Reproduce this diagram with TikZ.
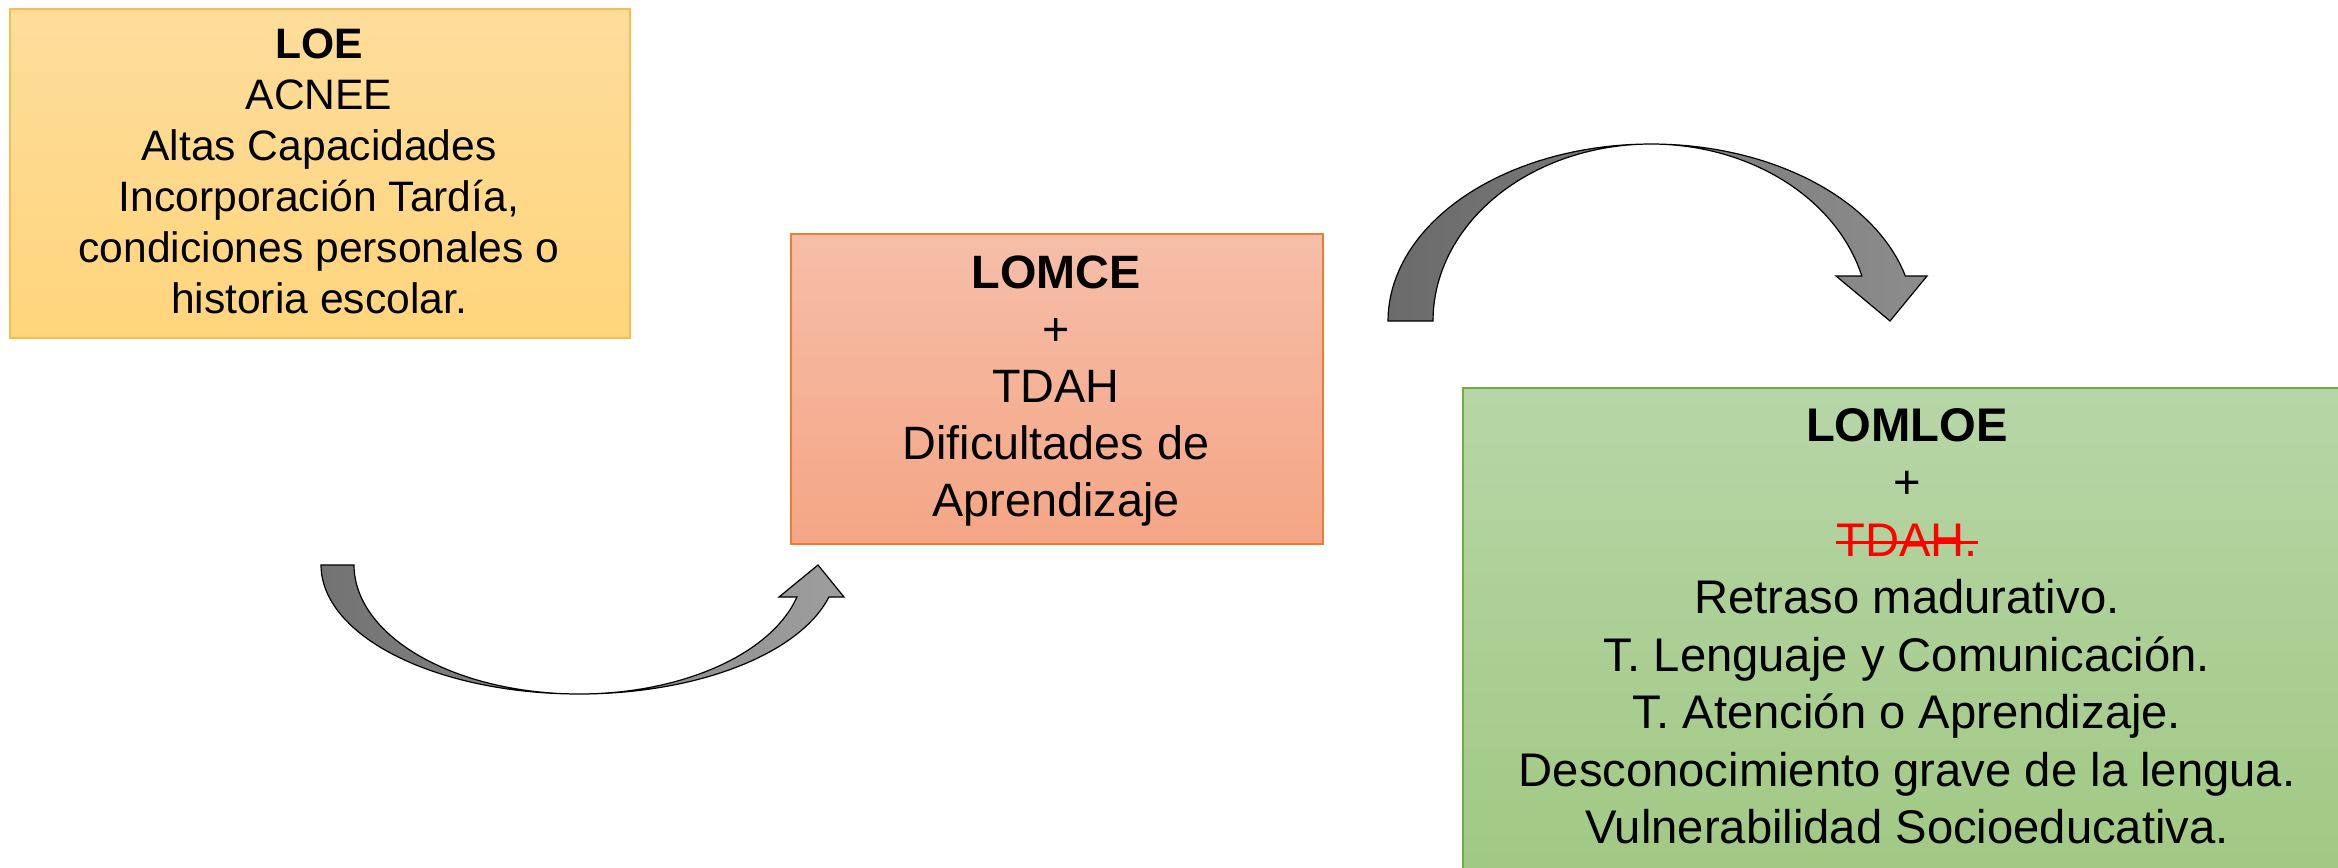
\documentclass[tikz,border=0pt]{standalone}
\usepackage{fontspec}
\setmainfont{Liberation Sans}
\definecolor{loetop}{RGB}{254,221,155}
\definecolor{loebot}{RGB}{255,213,124}
\definecolor{loeline}{RGB}{246,190,80}
\definecolor{lomcetop}{RGB}{246,190,168}
\definecolor{lomcebot}{RGB}{244,166,133}
\definecolor{lomceline}{RGB}{237,125,49}
\definecolor{lomloetop}{RGB}{183,214,167}
\definecolor{lomloebot}{RGB}{160,200,130}
\definecolor{lomloeline}{RGB}{112,173,71}
\newcommand{\redstrike}[1]{{\color{red}\setbox0\hbox{#1}\rlap{\rule[0.25em]{\wd0}{3bp}}\box0}}
\tikzset{
  box/.style={rectangle, inner sep=0pt, line width=1.5bp, anchor=north west},
  txt/.style={inner sep=0pt, align=center, anchor=north, text=black},
  bigarrow/.style={draw=black, line width=1.2bp, line join=miter},
}
\begin{document}
\begin{tikzpicture}[x=1bp,y=-1bp]
\useasboundingbox (0,0) rectangle (2338,867);
\clip (0,0) rectangle (2338,867);
% boxes
\node[box, draw=loeline, top color=loetop, bottom color=loebot,
      minimum width=620bp, minimum height=329bp] (loe) at (9,8) {};
\node[box, draw=lomceline, top color=lomcetop, bottom color=lomcebot,
      minimum width=532bp, minimum height=310bp] (lomce) at (790,233) {};
\node[box, draw=lomloeline, top color=lomloetop, bottom color=lomloebot,
      minimum width=900bp, minimum height=500bp] (lomloe) at (1462,387) {};
% texts
\node[txt, font=\fontsize{42.6bp}{51bp}\selectfont] (loetxt) at (319,29)
  {\textbf{LOE}\\ACNEE\\Altas Capacidades\\Incorporación Tardía,\\condiciones personales o\\historia escolar.};
\node[txt, font=\fontsize{46.8bp}{57bp}\selectfont] (lomcetxt) at (1056,256)
  {\textbf{LOMCE}\\+\\TDAH\\Dificultades de\\Aprendizaje};
\node[txt, font=\fontsize{47.2bp}{57.5bp}\selectfont] (lomloetxt) at (1907,408)
  {\textbf{LOMLOE}\\+\\\redstrike{TDAH.}\\Retraso madurativo.\\T. Lenguaje y Comunicación.\\T. Atención o Aprendizaje.\\Desconocimiento grave de la lengua.\\Vulnerabilidad Socioeducativa.};
% curved arrow LOE -> LOMCE
\draw[bigarrow, left color=black!55, right color=black!38]
  plot[domain=180:14.4, samples=80, variable=\t] ({579+258*cos(\t)},{565+129*sin(\t)})
  -- (844,597) -- (818,565) -- (779,597)
  -- plot[domain=14.4:180, samples=80, variable=\t] ({579+225*cos(\t)},{565+129*sin(\t)})
  -- cycle;
% curved arrow LOMCE -> LOMLOE
\draw[bigarrow, left color=black!58, right color=black!45]
  plot[domain=180:14.7, samples=80, variable=\t] ({1651+263*cos(\t)},{321-177*sin(\t)})
  -- (1927,276) -- (1890,321) -- (1836,276)
  -- plot[domain=14.7:180, samples=80, variable=\t] ({1651+218*cos(\t)},{321-177*sin(\t)})
  -- cycle;
\end{tikzpicture}
\end{document}
